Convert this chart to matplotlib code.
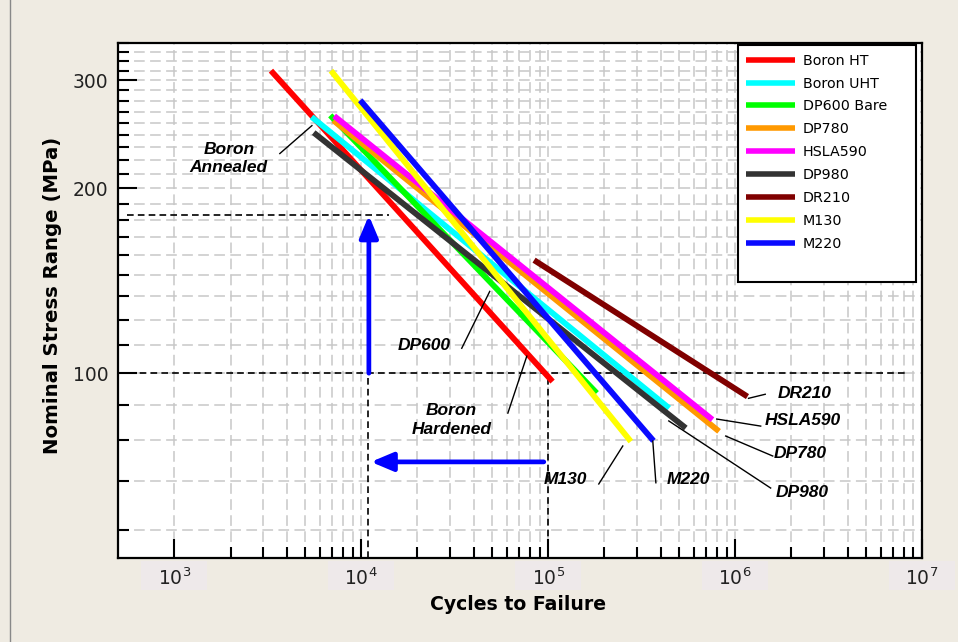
import matplotlib
matplotlib.use("Agg")
import matplotlib.pyplot as plt
import matplotlib.transforms as mtransforms
import numpy as np
from matplotlib.lines import Line2D
from matplotlib.patches import Rectangle
from matplotlib.ticker import FixedLocator, NullFormatter

# S-N curve end points: cycles and stress range (MPa) at each end
names = ["Boron HT", "Boron UHT", "DP600 Bare", "DP780", "HSLA590",
         "DP980", "DR210", "M130", "M220"]
colors = ["#ff0000", "#00ffff", "#00ff00", "#ff9900", "#ff00ff",
          "#333333", "#800000", "#ffff00", "#0a0aff"]
n_start = [3290, 5430, 6830, 7100, 7170, 5570, 84100, 6890, 9880]
s_start = [311.0, 261.5, 263.0, 258.0, 262.4, 246.5, 152.8, 311.0, 278.3]
n_end = [105600, 444000, 182000, 821000, 757000, 545000, 1165000, 277000, 366000]
s_end = [96.9, 87.7, 92.8, 80.4, 84.0, 81.4, 91.6, 77.4, 77.6]

# reading example: 100 MPa line, 180 MPa level and the two arrows
ref_stress = 100
hi_stress = 180.7
arrow_cycles = 10990
low_arrow_stress = 71.7
left_arrow = [94800, 11270]

decades = [1e3, 1e4, 1e5, 1e6, 1e7]

# callouts: text, text position, leader start, leader end
callouts = [
    ("Boron\nAnnealed", (1960, 223.7), (3670, 227.9), (5450, 253.1)),
    ("DP600", (21600, 111.0), (34500, 109.8), (48700, 135.9)),
    ("Boron\nHardened", (30500, 83.9), (60900, 86.1), (76900, 106.6)),
    ("M130", (124000, 67.2), (186600, 66.0), (250800, 76.1)),
    ("M220", (560000, 67.2), (377000, 66.3), (363000, 77.5)),
    ("DR210", (2355000, 92.8), (1180000, 91.0), (1450000, 92.4)),
    ("HSLA590", (2300000, 83.6), (798000, 84.2), (1371000, 82.0)),
    ("DP780", (2244000, 74.1), (891000, 79.0), (1590000, 73.3)),
    ("DP980", (2300000, 64.0), (442000, 83.6), (1550000, 65.0)),
]

bg = "#efebe2"
fig = plt.figure(figsize=(9.58, 6.42), dpi=100, facecolor=bg)
ax = fig.add_axes([118 / 958, 84 / 642, 804 / 958, 515 / 642])
ax.set_facecolor("white")
ax.set_xscale("log")
ax.set_yscale("log")
ax.set_xlim(500, 1e7)
ax.set_ylim(50, 345)

# grid: minor y lines every 100/9 MPa, x minors only from 10^3 up
ax.yaxis.set_major_locator(FixedLocator([100, 200, 300]))
ax.yaxis.set_minor_locator(FixedLocator(np.arange(1, 32) * 100 / 9))
ax.yaxis.set_major_formatter(plt.FuncFormatter(lambda v, p: "%d" % v))
ax.yaxis.set_minor_formatter(NullFormatter())
x_minor = [m * d for d in decades[:-1] for m in range(2, 10)]
ax.xaxis.set_major_locator(FixedLocator(decades))
ax.xaxis.set_minor_locator(FixedLocator(x_minor))
ax.xaxis.set_major_formatter(plt.FuncFormatter(lambda v, p: "$10^{%d}$" % round(np.log10(v))))
ax.xaxis.set_minor_formatter(NullFormatter())
ax.grid(True, which="both", color="#c8c8c8", lw=1.1, ls=(0, (7, 3.5)), zorder=0)
ax.set_axisbelow(True)

ax.tick_params(which="major", direction="in", length=14, width=1.5, color="black",
               labelsize=13.5, labelcolor="#222222", pad=7)
ax.tick_params(which="minor", direction="in", length=8, width=1.5, color="black")
for sp in ax.spines.values():
    sp.set_linewidth(1.6)

# shaded boxes behind the decade labels
box_tr = mtransforms.blended_transform_factory(ax.transData, ax.transAxes)
for d in decades:
    ax.add_patch(Rectangle((d / 1.5, -0.062), d * 1.5 - d / 1.5, 0.056,
                           transform=box_tr, facecolor="#eee9ea",
                           edgecolor="none", clip_on=False, zorder=-1))

for i in range(len(names)):
    ax.plot([n_start[i], n_end[i]], [s_start[i], s_end[i]], color=colors[i],
            lw=4.2, solid_capstyle="butt", label=names[i], zorder=3)

# dashed guide lines
dash = dict(color="black", lw=1.2, ls=(0, (4, 2.5)), zorder=2)
ax.plot([500, 8.2e6], [ref_stress, ref_stress], **dash)
ax.plot([560, 14100], [hi_stress, hi_stress], **dash)
ax.plot([10820, 10820], [50, ref_stress], **dash)
ax.plot([99300, 99300], [50, 97.5], **dash)

arrow = dict(arrowstyle="-|>,head_length=0.95,head_width=0.4", lw=3.4,
             color="#0000ff", shrinkA=0, shrinkB=0, mutation_scale=14)
ax.annotate("", xy=(arrow_cycles, hi_stress), xytext=(arrow_cycles, ref_stress),
            arrowprops=arrow, zorder=4)
ax.annotate("", xy=(left_arrow[1], low_arrow_stress),
            xytext=(left_arrow[0], low_arrow_stress), arrowprops=arrow, zorder=4)

for text, pos, p0, p1 in callouts:
    ax.text(pos[0], pos[1], text, ha="center", va="center", fontsize=12.5,
            fontweight="bold", fontstyle="italic", family="Liberation Sans",
            linespacing=1.3, zorder=5)
    ax.plot([p0[0], p1[0]], [p0[1], p1[1]], color="black", lw=1.0, zorder=5)

handles, labels = ax.get_legend_handles_labels()
handles.append(Line2D([], [], color="none"))
labels.append(" ")
leg = ax.legend(handles, labels, loc="upper left",
                bbox_to_anchor=(0.771, 0.996, 0.2214, 0.0), mode="expand",
                borderaxespad=0, fontsize=10.3, handlelength=3.4, handletextpad=0.55,
                fancybox=False, framealpha=1, edgecolor="black", borderpad=0.6,
                labelspacing=0.62)
leg.get_frame().set_linewidth(1.5)
for h in leg.legend_handles:
    h.set_linewidth(4)
leg.set_zorder(6)

ax.set_xlabel("Cycles to Failure", fontsize=13.6, fontweight="bold")
ax.set_ylabel("Nominal Stress Range (MPa)", fontsize=14.2, fontweight="bold")
ax.xaxis.set_label_coords(0.4975, -0.072)
ax.yaxis.set_label_coords(-0.0696, 0.51)

fig.add_artist(Line2D([9.5 / 958, 9.5 / 958], [0, 1], color="#888888", lw=1.0))

fig.savefig("out.png", dpi=100, facecolor=bg)
